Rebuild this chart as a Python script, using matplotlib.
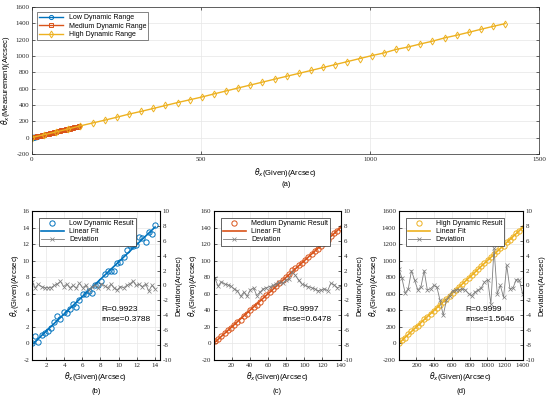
import numpy as np
import matplotlib.pyplot as plt

# ---------------------------------
# Data
# ---------------------------------
low_given = np.linspace(0.42, 14.05, 40)
low_meas = [0.0, 0.84, 0.16, 1.0, 1.3, 1.5, 1.84, 2.57, 3.33, 2.97,
            3.8, 3.65, 4.2, 4.77, 4.37, 5.3, 6.0, 5.93, 6.33, 6.13,
            7.05, 7.05, 7.6, 8.4, 8.8, 8.8, 8.7, 9.7, 9.86, 10.47,
            11.35, 11.95, 11.83, 11.9, 12.87, 12.75, 12.2, 13.47, 13.23, 14.27]
low_dev = [0.45, -0.3, 0.15, -0.15, -0.3, -0.3, -0.3, 0.0, 0.2, 0.55,
           -0.15, 0.2, -0.3, 0.0, -0.35, 0.3, -0.3, 0.0, -0.6, -0.15,
           0.0, -0.3, 0.2, -0.05, -0.3, 0.15, -0.3, -0.6, -0.15, -0.3,
           0.0, 0.2, 0.6, 0.0, 0.15, -0.15, 0.2, -0.75, 0.0, -0.45]

med_given = np.linspace(1.5, 140, 40)
med_dev = [1.0, -0.1, 0.5, 0.2, 0.1, -0.1, -0.45, -0.7, -1.45, -0.9,
           -1.45, -0.6, -0.3, -1.35, -0.9, -0.45, -0.3, -0.15, 0.0, 0.2,
           0.45, 0.3, 0.7, 0.9, 1.8, 1.35, 0.7, 0.2, 0.0, -0.15,
           -0.3, -0.45, -0.7, -0.6, -0.45, -0.7, 0.3, 0.1, -0.3, -0.15]
med_meas = med_given + np.array(med_dev)

high_given = np.linspace(0, 1400, 40)
high_dev = [2.25, 1.0, -1.0, -0.45, 2.0, 0.7, -0.6, -0.15, 2.0, -0.6,
            -0.45, 0.0, -0.2, -2.0, -4.0, -2.0, -1.35, -0.7, -0.6, -0.6,
            -0.45, -0.6, -1.1, -1.35, -0.9, -0.6, -0.3, 0.45, 0.8, -2.5,
            5.0, -1.1, 0.0, -1.6, 2.7, -0.45, -0.3, 0.8, 0.7, -1.1]
high_meas = high_given + np.array(high_dev)

stats = [("R=0.9923", "rmse=0.3788"), ("R=0.9997", "rmse=0.6478"),
         ("R=0.9999", "rmse=1.5646")]

blue, red, yellow, gray = "#0072BD", "#D95319", "#EDB120", "#7f7f7f"
frame = "#262626"
tick_font = "Liberation Serif"
plt.rcParams["font.family"] = ["Liberation Sans", "DejaVu Sans"]
plt.rcParams["mathtext.fontset"] = "dejavusans"
plt.rcParams["axes.unicode_minus"] = False


def style(ax):
    ax.tick_params(direction="in", length=2.5, width=0.5, labelsize=5,
                   colors=frame, pad=2)
    for lab in ax.get_xticklabels() + ax.get_yticklabels():
        lab.set_fontfamily(tick_font)
    for s in ax.spines.values():
        s.set_linewidth(0.5)
        s.set_color(frame)
    ax.grid(True, color="#e6e6e6", linewidth=0.5)
    ax.set_axisbelow(True)


fig = plt.figure(figsize=(5.5, 3.99), dpi=100)

# ---------------------------------
# (a) overview
# ---------------------------------
ax = fig.add_axes([0.058, 0.614, 0.922, 0.368])
ax.plot(low_given, low_meas, "-o", color=blue, lw=1.0, ms=3, mfc="none", mew=0.7,
        label="Low Dynamic Range")
ax.plot(med_given, med_meas, "-s", color=red, lw=1.0, ms=3, mfc="none", mew=0.7,
        label="Medium Dynamic Range")
ax.plot(high_given, high_meas, "-d", color=yellow, lw=1.0, ms=3.5, mfc="none", mew=0.7,
        label="High Dynamic Range")
ax.set_xlim(0, 1500)
ax.set_ylim(-200, 1600)
ax.set_xticks([0, 500, 1000, 1500])
ax.set_yticks(np.arange(-200, 1601, 200))
ax.tick_params(right=True, top=True)
style(ax)
ax.set_xlabel(r"$\theta_x$(Given)(Arcsec)", fontsize=5.5, labelpad=3)
ax.set_ylabel(r"$\theta_x$(Measurement)(Arcsec)", fontsize=5.5, labelpad=2)
leg = ax.legend(loc="upper left", fontsize=5, frameon=True, fancybox=False,
                borderpad=0.3, labelspacing=0.2, handlelength=3.5,
                bbox_to_anchor=(0.003, 0.99))
leg.get_frame().set_linewidth(0.5)
leg.get_frame().set_edgecolor(frame)
fig.text(0.52, 0.534, "(a)", fontsize=5.5, ha="center")

# ---------------------------------
# (b)-(d) detail panels
# ---------------------------------
panels = [
    (low_given, low_meas, low_dev, blue, "Low Dynamic Result", 0.058, 0.233,
     (0.4, 14.6), (-2, 16), np.arange(2, 15, 2), np.arange(-2, 17, 2), "(b)"),
    (med_given, med_meas, med_dev, red, "Medium Dynamic Result", 0.389, 0.231,
     (0.5, 140.5), (-20, 160), np.arange(20, 141, 20), np.arange(-20, 161, 20), "(c)"),
    (high_given, high_meas, high_dev, yellow, "High Dynamic Result", 0.725, 0.226,
     (0, 1405), (-200, 1600), np.arange(200, 1401, 200), np.arange(-200, 1601, 200), "(d)"),
]

for i, (gx, my, dv, col, name, left, width, xl, yl, xt, yt, tag) in enumerate(panels):
    ax = fig.add_axes([left, 0.098, width, 0.373])
    k, b = np.polyfit(gx, my, 1)
    h1, = ax.plot(gx, my, "o", color=col, ms=3.8, mfc="none", mew=0.7, label=name)
    h2, = ax.plot(gx, k * np.asarray(gx) + b, "-", color=col, lw=1.2, label="Linear Fit")
    ax.set_xlim(*xl)
    ax.set_ylim(*yl)
    ax.set_xticks(xt)
    ax.set_yticks(yt)
    style(ax)
    ax.set_xlabel(r"$\theta_x$(Given)(Arcsec)", fontsize=5.5, labelpad=2)
    ax.set_ylabel(r"$\theta_x$(Given)(Arcsec)", fontsize=5.5, labelpad=1)

    ax2 = ax.twinx()
    h3, = ax2.plot(gx, dv, "-x", color=gray, lw=0.6, ms=2.2, mew=0.5, label="Deviation")
    ax2.set_ylim(-10, 10)
    ax2.set_yticks(np.arange(-10, 11, 2))
    ax2.tick_params(direction="in", length=2.5, width=0.5, labelsize=5,
                    colors=frame, pad=2)
    for lab in ax2.get_yticklabels():
        lab.set_fontfamily(tick_font)
    ax2.set_ylabel("Deviation(Arcsec)", fontsize=5.5, labelpad=2)

    leg = ax2.legend([h1, h2, h3], [name, "Linear Fit", "Deviation"],
                     loc="upper left", fontsize=5, frameon=True, fancybox=False,
                     borderpad=0.3, labelspacing=0.15, handlelength=3.2,
                     bbox_to_anchor=(0.03, 0.975), framealpha=1)
    leg.get_frame().set_linewidth(0.5)
    leg.get_frame().set_edgecolor(frame)

    ax2.text(0.54, 0.33, stats[i][0], transform=ax.transAxes, fontsize=6)
    ax2.text(0.54, 0.26, stats[i][1], transform=ax.transAxes, fontsize=6)
    fig.text(left + width / 2, 0.015, tag, fontsize=5.5, ha="center")

fig.savefig("out.png", dpi=100)
